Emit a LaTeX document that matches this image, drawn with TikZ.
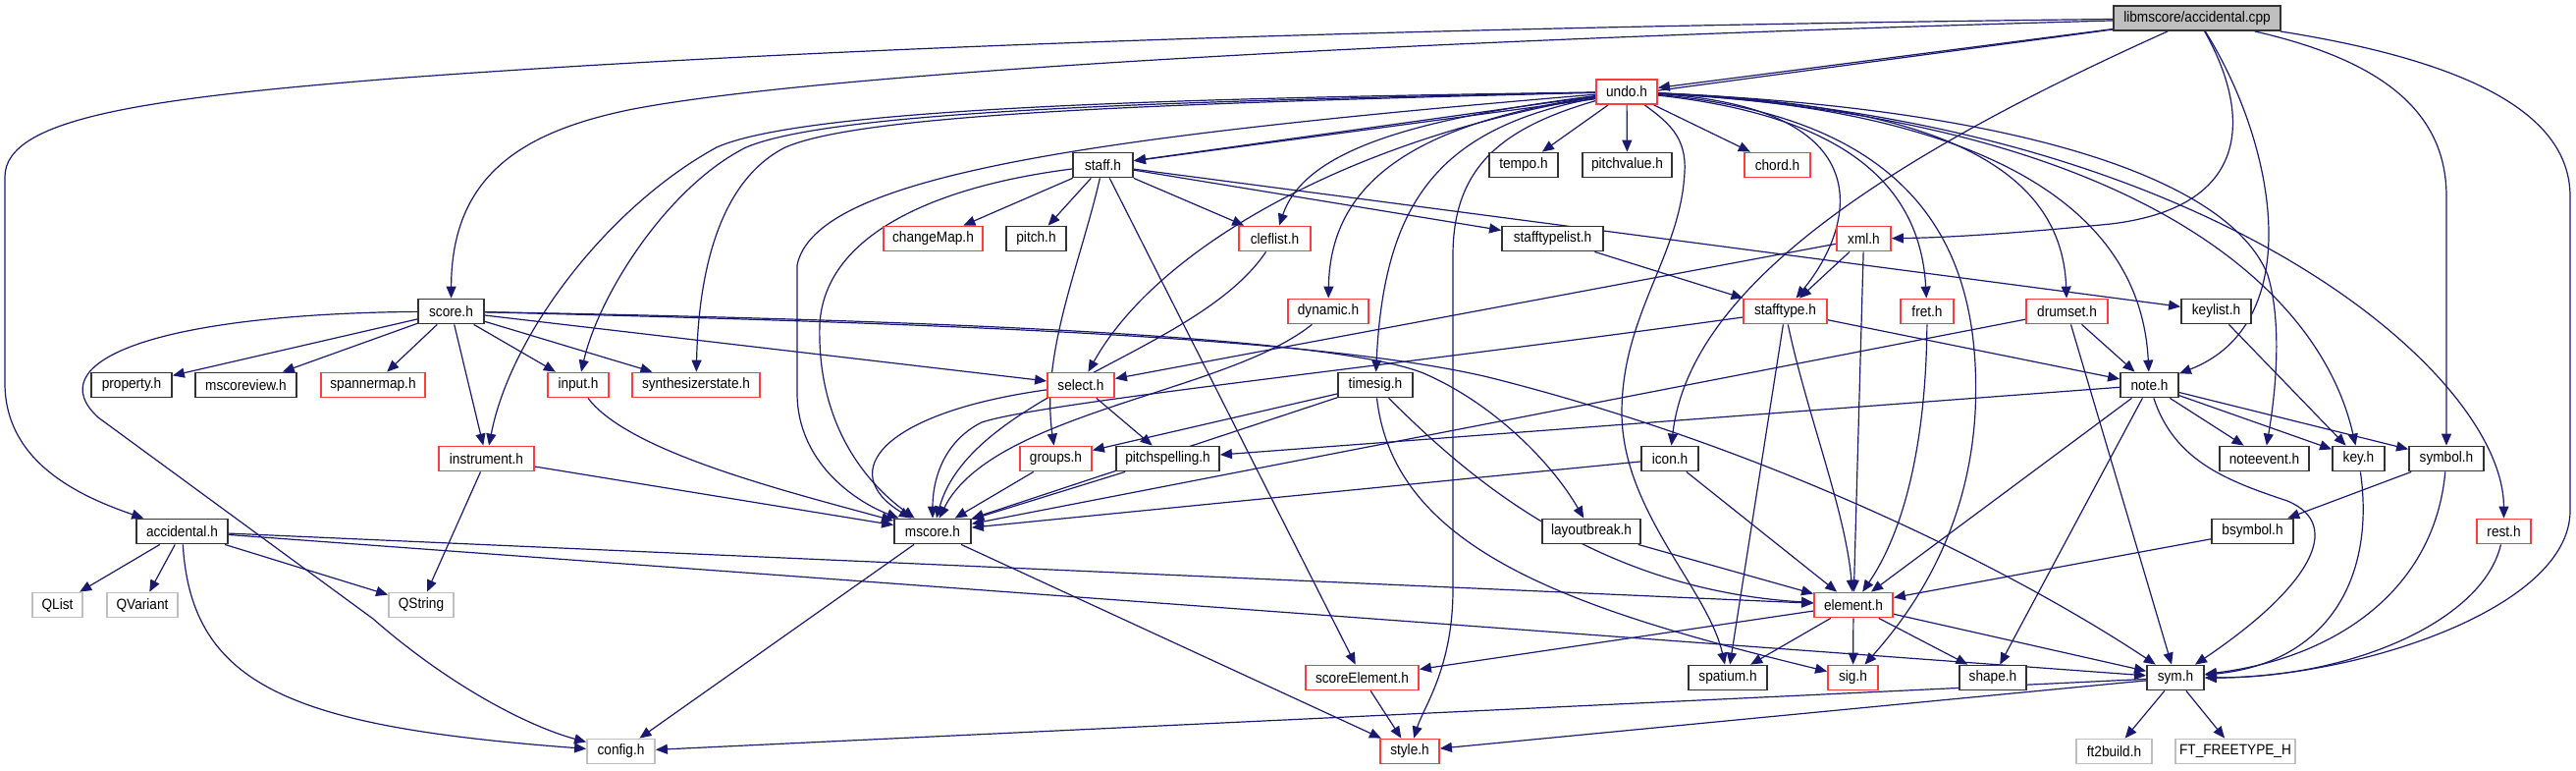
\documentclass[tikz,border=0pt]{standalone}
\usepackage{fontspec}
\usetikzlibrary{arrows.meta}
\newfontfamily\nodefont[FakeStretch=0.91]{Liberation Sans}
\definecolor{edgeblue}{RGB}{25,25,112}
\definecolor{nodered}{RGB}{255,60,60}
\definecolor{extgray}{RGB}{191,191,191}
\pgfdeclarelayer{background}
\pgfsetlayers{background,main}
\tikzset{
  nb/.style={draw=black!80, fill=white, line width=0.9pt, minimum height=12.5pt, inner sep=0pt,
             font=\nodefont\fontsize{7.5}{8.5}\selectfont},
  nr/.style={nb, draw=nodered},
  ng/.style={nb, draw=extgray},
  nroot/.style={nb, fill=extgray},
  e/.style={draw=edgeblue, line width=0.6pt, -{Triangle[length=6pt,width=5pt]}}
}
\begin{document}
\begin{tikzpicture}[x=0.5pt,y=-0.5pt]
\useasboundingbox (0,0) rectangle (2624,784);
% row 0
\node[nroot, minimum width=85pt] (cpp) at (2238,18.5) {libmscore/accidental.cpp};
% row 1
\node[nr, minimum width=31pt] (undo) at (1657,93.5) {undo.h};
% row 2
\node[nb, minimum width=30.5pt] (staff) at (1123.5,168) {staff.h};
\node[nb, minimum width=35pt] (tempo) at (1552,168) {tempo.h};
\node[nb, minimum width=45.5pt] (pitchvalue) at (1657.5,168) {pitchvalue.h};
\node[nr, minimum width=33.5pt] (chord) at (1810.5,168) {chord.h};
% row 3
\node[nr, minimum width=50.5pt] (changemap) at (950.5,243) {changeMap.h};
\node[nb, minimum width=30.5pt] (pitch) at (1055.5,243) {pitch.h};
\node[nr, minimum width=36.5pt] (cleflist) at (1298.5,243) {cleflist.h};
\node[nb, minimum width=51.5pt] (stafftypelist) at (1581.5,243) {stafftypelist.h};
\node[nr, minimum width=27.5pt] (xml) at (1898.5,243) {xml.h};
% row 4
\node[nb, minimum width=33.5pt] (score) at (459.5,317) {score.h};
\node[nr, minimum width=41pt] (dynamic) at (1353,317) {dynamic.h};
\node[nr, minimum width=42.5pt] (stafftype) at (1818.5,317) {stafftype.h};
\node[nr, minimum width=27pt] (fret) at (1963,317) {fret.h};
\node[nr, minimum width=41.5pt] (drumset) at (2105.5,317) {drumset.h};
\node[nb, minimum width=35.5pt] (keylist) at (2257.5,317) {keylist.h};
% row 5
\node[nb, minimum width=41pt] (property) at (134,392) {property.h};
\node[nb, minimum width=51.5pt] (mscoreview) at (250.5,392) {mscoreview.h};
\node[nr, minimum width=53pt] (spannermap) at (380,392) {spannermap.h};
\node[nr, minimum width=31pt] (input) at (589,392) {input.h};
\node[nr, minimum width=65pt] (synth) at (709,392) {synthesizerstate.h};
\node[nr, minimum width=34pt] (select) at (1101,392) {select.h};
\node[nb, minimum width=38pt] (timesig) at (1401,392) {timesig.h};
\node[nb, minimum width=29.5pt] (note) at (2189.5,392) {note.h};
% row 6
\node[nr, minimum width=48.5pt] (instrument) at (495.5,467) {instrument.h};
\node[nr, minimum width=36.5pt] (groups) at (1075.5,467) {groups.h};
\node[nb, minimum width=52.5pt] (pitchspelling) at (1189.5,467) {pitchspelling.h};
\node[nb, minimum width=29pt] (icon) at (1701,467) {icon.h};
\node[nb, minimum width=45.5pt] (noteevent) at (2306.5,467) {noteevent.h};
\node[nb, minimum width=26.5pt] (key) at (2402.5,467) {key.h};
\node[nb, minimum width=38pt] (symbol) at (2492,467) {symbol.h};
% row 7
\node[nb, minimum width=46.5pt] (accidental) at (185.5,541) {accidental.h};
\node[nb, minimum width=39pt] (mscore) at (950,541) {mscore.h};
\node[nb, minimum width=50pt] (layoutbreak) at (1621,541) {layoutbreak.h};
\node[nb, minimum width=41.5pt] (bsymbol) at (2294.5,541) {bsymbol.h};
\node[nr, minimum width=27.5pt] (rest) at (2550.5,541) {rest.h};
% row 8
\node[ng, minimum width=25.5pt] (qlist) at (58.5,616) {QList};
\node[ng, minimum width=36pt] (qvariant) at (145,616) {QVariant};
\node[ng, minimum width=33pt] (qstring) at (429,616) {QString};
\node[nr, minimum width=40pt] (element) at (1888,616) {element.h};
% row 9
\node[nr, minimum width=57.5pt] (scoreelement) at (1387.5,690) {scoreElement.h};
\node[nb, minimum width=40pt] (spatium) at (1760,690) {spatium.h};
\node[nr, minimum width=25.5pt] (sig) at (1887.5,690) {sig.h};
\node[nb, minimum width=34pt] (shape) at (2030,690) {shape.h};
\node[nb, minimum width=29pt] (sym) at (2216,690) {sym.h};
% row 10
\node[ng, minimum width=34.5pt] (config) at (632.5,765) {config.h};
\node[nr, minimum width=30pt] (style) at (1436,765) {style.h};
\node[ng, minimum width=38.5pt] (ft2build) at (2153.5,765) {ft2build.h};
\node[ng, minimum width=61pt] (freetype) at (2277,765) {FT\_FREETYPE\_H};

\begin{pgfonlayer}{background}
% from accidental.cpp
\draw[e] (cpp) -- (undo);
\draw[e] (cpp) -- (staff);
\draw[e] (cpp) .. controls (1300,45) and (800,80) .. (640,112) .. controls (530,135) and (460,180) .. (score);
\draw[e] (cpp) .. controls (1400,28) and (800,50) .. (400,80) .. controls (150,100) and (5,120) .. (5,180) -- (5,390) .. controls (5,470) and (80,505) .. (accidental);
\draw[e] (cpp) .. controls (1900,170) and (1720,300) .. (icon);
\draw[e] (cpp) .. controls (2290,110) and (2300,210) .. (2150,228) .. controls (2050,238) and (1980,242) .. (xml);
\draw[e] (cpp) .. controls (2320,150) and (2350,330) .. (note);
\draw[e] (cpp) .. controls (2420,60) and (2492,110) .. (2492,200) -- (symbol);
\draw[e] (cpp) .. controls (2500,60) and (2618,110) .. (2618,200) -- (2618,520) .. controls (2618,620) and (2400,690) .. (sym);
% from undo.h
\draw[e] (undo) -- (staff);
\draw[e] (undo) -- (tempo);
\draw[e] (undo) -- (pitchvalue);
\draw[e] (undo) -- (chord);
\draw[e] (undo) .. controls (1450,120) and (1330,150) .. (cleflist);
\draw[e] (undo) .. controls (1450,125) and (1355,180) .. (dynamic);
\draw[e] (undo) .. controls (1470,130) and (1410,200) .. (timesig);
\draw[e] (undo) .. controls (1530,130) and (1480,170) .. (1480,260) -- (1480,600) .. controls (1480,680) and (1450,720) .. (style);
\draw[e] (undo) .. controls (1700,125) and (1718,140) .. (1716,175) .. controls (1712,260) and (1652,320) .. (1652,420) .. controls (1652,520) and (1740,600) .. (spatium);
\draw[e] (undo) .. controls (1920,110) and (1890,230) .. (stafftype);
\draw[e] (undo) .. controls (1380,140) and (1180,250) .. (select);
\draw[e] (undo) .. controls (1100,140) and (830,180) .. (812,270) -- (812,400) .. controls (812,470) and (870,510) .. (mscore);
\draw[e] (undo) .. controls (1200,105) and (880,115) .. (800,150) .. controls (740,180) and (712,260) .. (synth);
\draw[e] (undo) .. controls (1200,103) and (850,112) .. (760,150) .. controls (680,190) and (610,300) .. (input);
\draw[e] (undo) .. controls (1200,100) and (820,110) .. (730,150) .. controls (620,210) and (520,340) .. (instrument);
\draw[e] (undo) .. controls (1850,115) and (1955,170) .. (fret);
\draw[e] (undo) .. controls (1950,105) and (2100,160) .. (drumset);
\draw[e] (undo) .. controls (2000,110) and (2180,200) .. (note);
\draw[e] (undo) .. controls (2050,110) and (2270,180) .. (2310,280) .. controls (2325,330) and (2318,400) .. (noteevent);
\draw[e] (undo) .. controls (2150,120) and (2360,280) .. (key);
\draw[e] (undo) .. controls (2250,120) and (2550,380) .. (rest);
\draw[e] (undo) .. controls (1950,120) and (2020,250) .. (2012,420) .. controls (2005,540) and (1950,620) .. (sig);
% from staff.h
\draw[e] (staff) -- (changemap);
\draw[e] (staff) -- (pitch);
\draw[e] (staff) -- (cleflist);
\draw[e] (staff) -- (stafftypelist);
\draw[e] (staff) -- (keylist);
\draw[e] (staff) .. controls (1100,270) and (1060,360) .. (groups);
\draw[e] (staff) -- (scoreelement);
\draw[e] (staff) .. controls (950,190) and (840,240) .. (835,330) .. controls (832,430) and (880,490) .. (mscore);
% from score.h
\draw[e] (score) -- (property);
\draw[e] (score) -- (mscoreview);
\draw[e] (score) -- (spannermap);
\draw[e] (score) -- (input);
\draw[e] (score) -- (synth);
\draw[e] (score) -- (select);
\draw[e] (score) -- (instrument);
\draw[e] (score) .. controls (150,320) and (40,370) .. (100,425) -- (380,630) .. controls (460,700) and (540,740) .. (config);
\draw[e] (score) .. controls (900,325) and (1350,340) .. (1450,380) .. controls (1520,410) and (1580,470) .. (layoutbreak);
\draw[e] (score) .. controls (1000,330) and (1350,345) .. (1516,384) .. controls (1800,455) and (2050,580) .. (sym);
% from select.h, groups.h, pitchspelling.h
\draw[e] (select) -- (pitchspelling);
\draw[e] (select) .. controls (900,420) and (850,480) .. (mscore);
\draw[e] (groups) -- (mscore);
\draw[e] (pitchspelling) -- (mscore);
% from timesig.h
\draw[e] (timesig) -- (groups);
\draw[e] (timesig) -- (mscore);
\draw[e] (timesig) .. controls (1490,480) and (1620,600) .. (element);
\draw[e] (timesig) .. controls (1420,560) and (1600,620) .. (sig);
% layoutbreak, icon
\draw[e] (layoutbreak) -- (element);
\draw[e] (icon) -- (element);
\draw[e] (icon) -- (mscore);
% from element.h
\draw[e] (element) -- (scoreelement);
\draw[e] (element) -- (spatium);
\draw[e] (element) -- (sig);
\draw[e] (element) -- (shape);
\draw[e] (element) -- (sym);
\draw[e] (scoreelement) -- (style);
% from mscore.h
\draw[e] (mscore) -- (config);
\draw[e] (mscore) -- (style);
% from sym.h
\draw[e] (sym) -- (config);
\draw[e] (sym) -- (style);
\draw[e] (sym) -- (ft2build);
\draw[e] (sym) -- (freetype);
% from note.h
\draw[e] (note) -- (noteevent);
\draw[e] (note) -- (key);
\draw[e] (note) -- (symbol);
\draw[e] (note) -- (pitchspelling);
\draw[e] (note) -- (element);
\draw[e] (note) -- (shape);
\draw[e] (note) .. controls (2215,470) and (2270,490) .. (2330,510) .. controls (2390,535) and (2350,600) .. (sym);
% from drumset.h
\draw[e] (drumset) -- (note);
\draw[e] (drumset) -- (sym);
\draw[e] (drumset) -- (mscore);
% from stafftype.h
\draw[e] (stafftype) -- (note);
\draw[e] (stafftype) -- (spatium);
\draw[e] (stafftype) .. controls (1840,420) and (1880,520) .. (element);
\draw[e] (stafftype) .. controls (1400,375) and (1060,410) .. (1000,430) .. controls (960,450) and (950,490) .. (mscore);
% cleflist, dynamic, input, instrument
\draw[e] (cleflist) .. controls (1220,360) and (990,400) .. (mscore);
\draw[e] (dynamic) .. controls (1250,400) and (1010,420) .. (mscore);
\draw[e] (input) .. controls (640,460) and (800,500) .. (mscore);
\draw[e] (instrument) -- (mscore);
\draw[e] (instrument) -- (qstring);
% from accidental.h
\draw[e] (accidental) -- (qlist);
\draw[e] (accidental) -- (qvariant);
\draw[e] (accidental) -- (qstring);
\draw[e] (accidental) .. controls (195,700) and (300,740) .. (config);
\draw[e] (accidental) -- (element);
\draw[e] (accidental) -- (sym);
% symbol, key, rest, keylist, bsymbol, fret, xml, stafftypelist
\draw[e] (symbol) -- (bsymbol);
\draw[e] (symbol) .. controls (2480,600) and (2380,670) .. (sym);
\draw[e] (key) .. controls (2420,590) and (2370,675) .. (sym);
\draw[e] (rest) .. controls (2530,630) and (2400,690) .. (sym);
\draw[e] (keylist) -- (key);
\draw[e] (bsymbol) -- (element);
\draw[e] (fret) .. controls (1962,450) and (1940,540) .. (element);
\draw[e] (xml) -- (stafftype);
\draw[e] (xml) -- (element);
\draw[e] (xml) -- (select);
\draw[e] (stafftypelist) -- (stafftype);
\end{pgfonlayer}
\end{tikzpicture}
\end{document}
